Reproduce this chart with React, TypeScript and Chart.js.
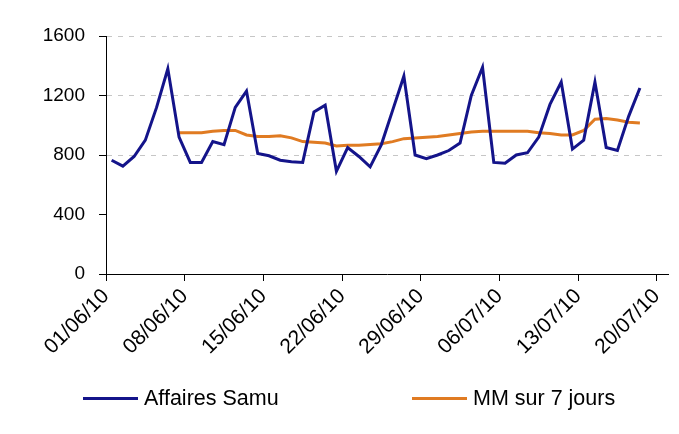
import React, { useEffect, useRef } from "react";
import { Chart, registerables } from "chart.js";

Chart.register(...registerables);

// Categories: one per day, 01/06/10 .. 20/07/10
const days: string[] = [
  "01/06/10", "02/06/10", "03/06/10", "04/06/10", "05/06/10", "06/06/10", "07/06/10",
  "08/06/10", "09/06/10", "10/06/10", "11/06/10", "12/06/10", "13/06/10", "14/06/10",
  "15/06/10", "16/06/10", "17/06/10", "18/06/10", "19/06/10", "20/06/10", "21/06/10",
  "22/06/10", "23/06/10", "24/06/10", "25/06/10", "26/06/10", "27/06/10", "28/06/10",
  "29/06/10", "30/06/10", "01/07/10", "02/07/10", "03/07/10", "04/07/10", "05/07/10",
  "06/07/10", "07/07/10", "08/07/10", "09/07/10", "10/07/10", "11/07/10", "12/07/10",
  "13/07/10", "14/07/10", "15/07/10", "16/07/10", "17/07/10", "18/07/10", "19/07/10",
  "20/07/10",
];

// Series values
const affairesSamu: (number | null)[] = [
  765, 725, 790, 900, 1120, 1380, 920,
  750, 750, 890, 870, 1120, 1230, 810,
  795, 765, 755, 750, 1090, 1135, 690,
  850, 790, 720, 870, 1100, 1330, 800,
  775, 800, 830, 880, 1200, 1390, 750,
  745, 800, 815, 920, 1140, 1290, 840,
  900, 1290, 850, 830, 1060, 1250,
];

const mmSur7Jours: (number | null)[] = [
  null, null, null, null, null, null, 950,
  950, 950, 960, 965, 965, 935, 925,
  925, 930, 915, 890, 885, 880, 860,
  865, 865, 870, 875, 890, 910, 915,
  920, 925, 935, 945, 955, 960, 960,
  960, 960, 960, 950, 945, 935, 935,
  965, 1040, 1045, 1035, 1020, 1015,
];

const seriesNames = ["Affaires Samu", "MM sur 7 jours"];
const seriesColors = ["#14148a", "#e07b22"];

const yMin = 0;
const yMax = 1600;
const yStep = 400;
const gridValues = [800, 1200, 1600];
const tickEvery = 7;

const FONT = "'Liberation Sans', Arial, sans-serif";

export default function App() {
  const canvasRef = useRef<HTMLCanvasElement | null>(null);

  useEffect(() => {
    if (!canvasRef.current) return;
    const toPoints = (arr: (number | null)[]) =>
      arr.map((v, i) => ({ x: i + 0.5, y: v }));

    const chart = new Chart(canvasRef.current, {
      type: "line",
      data: {
        datasets: [
          {
            label: seriesNames[0],
            data: toPoints(affairesSamu) as any,
            borderColor: seriesColors[0],
            backgroundColor: seriesColors[0],
            borderWidth: 3,
            pointRadius: 0,
            tension: 0,
          },
          {
            label: seriesNames[1],
            data: toPoints(mmSur7Jours) as any,
            borderColor: seriesColors[1],
            backgroundColor: seriesColors[1],
            borderWidth: 3,
            pointRadius: 0,
            tension: 0,
            spanGaps: false,
          },
        ],
      },
      options: {
        animation: false,
        responsive: true,
        maintainAspectRatio: false,
        layout: { padding: { top: 28, right: 3, left: 0, bottom: 0 } },
        plugins: {
          legend: { display: false },
          tooltip: { enabled: false },
        },
        scales: {
          x: {
            type: "linear",
            min: 0,
            max: days.length,
            afterBuildTicks: (scale: any) => {
              scale.ticks = days
                .map((_, i) => i)
                .filter((i) => i % tickEvery === 0)
                .map((v) => ({ value: v }));
            },
            afterFit: (scale: any) => {
              scale.height = 152;
              scale.paddingRight = 0;
              scale.paddingLeft = 0;
            },
            ticks: {
              autoSkip: false,
              maxRotation: 45,
              minRotation: 45,
              padding: 3,
              color: "#000",
              font: { family: FONT, size: 21 },
              callback: (v: any) => days[v as number] ?? "",
            },
            grid: {
              drawOnChartArea: false,
              drawTicks: true,
              tickLength: 7,
              tickColor: "#000",
            },
            border: { display: true, color: "#000", width: 1 },
          },
          y: {
            min: yMin,
            max: yMax,
            afterFit: (scale: any) => {
              scale.width = 98;
            },
            ticks: {
              stepSize: yStep,
              padding: 14,
              color: "#000",
              font: { family: FONT, size: 19 },
              callback: (v: any) => String(v),
            },
            grid: {
              color: (ctx: any) =>
                gridValues.includes(ctx.tick?.value) ? "rgba(160,160,160,0.6)" : "rgba(0,0,0,0)",
              drawTicks: true,
              tickLength: 7,
              tickColor: "#000",
              tickBorderDash: [],
            },
            border: { display: true, color: "#000", width: 1, dash: [5, 6] },
          },
        },
      },
    });
    return () => chart.destroy();
  }, []);

  const legendItems = [
    { left: 75, name: seriesNames[0], color: seriesColors[0] },
    { left: 404, name: seriesNames[1], color: seriesColors[1] },
  ];

  return (
    <div style={{ position: "relative", width: 663, height: 418, background: "#fff" }}>
      <canvas ref={canvasRef} style={{ display: "block" }} />
      {legendItems.map((it) => (
        <div
          key={it.name}
          style={{
            position: "absolute",
            left: it.left,
            top: 376,
            height: 28,
            display: "flex",
            alignItems: "center",
            fontFamily: FONT,
            fontSize: 21.5,
            color: "#000",
            whiteSpace: "nowrap",
          }}
        >
          <span
            style={{
              display: "inline-block",
              width: 55,
              height: 3,
              background: it.color,
              marginRight: 6,
            }}
          />
          <span>{it.name}</span>
        </div>
      ))}
    </div>
  );
}
